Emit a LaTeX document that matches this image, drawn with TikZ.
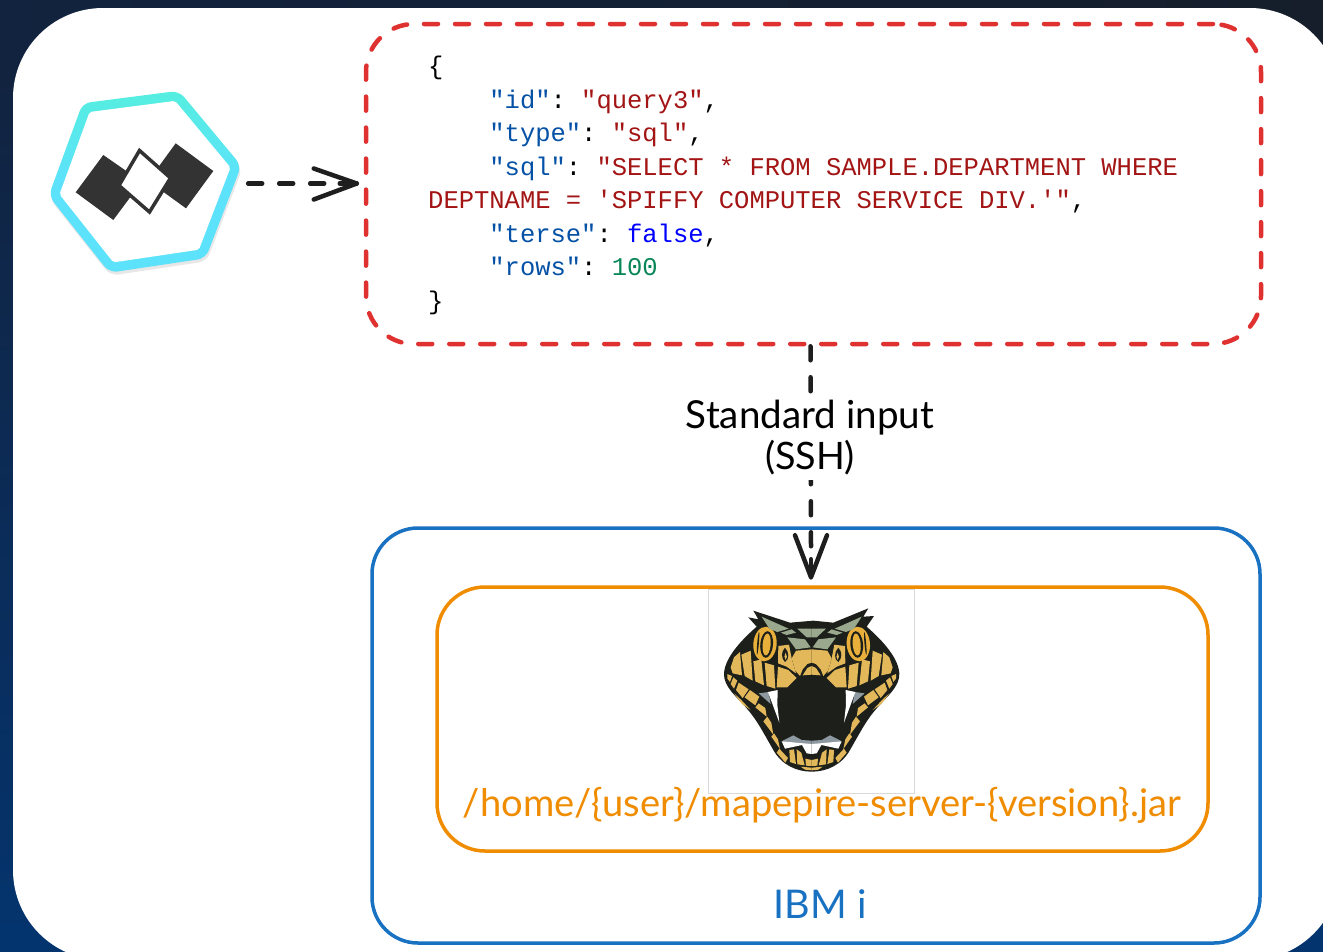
\documentclass[tikz,border=0pt]{standalone}
\usepackage{fontspec}
\usepackage{graphicx}
\setmonofont{Liberation Mono}
\newfontfamily\handfont{Lato}
\usetikzlibrary{calc}
\definecolor{inkc}{HTML}{1E1E1E}
\definecolor{redc}{HTML}{E03131}
\definecolor{bluec}{HTML}{1971C2}
\definecolor{orangec}{HTML}{F08C00}
\definecolor{keyc}{HTML}{0451A5}
\definecolor{strc}{HTML}{A31515}
\definecolor{boolc}{HTML}{0000FF}
\definecolor{numc}{HTML}{098658}
\definecolor{goldc}{HTML}{E2B85A}
\definecolor{eyec}{HTML}{E8B03A}
\definecolor{sagec}{HTML}{9AA88E}
\definecolor{snakec}{HTML}{1C1F1A}
\definecolor{greyc}{HTML}{8D98A0}
\definecolor{bgtl}{HTML}{12233F}
\definecolor{bgtr}{HTML}{151E2A}
\definecolor{bgbl}{HTML}{04346E}
\definecolor{hexa}{HTML}{55EEE0}
\definecolor{hexb}{HTML}{5CE2FB}
\newcommand{\ky}[1]{\textcolor{keyc}{#1}}
\newcommand{\st}[1]{\textcolor{strc}{#1}}
\newcommand{\ind}{\hspace*{61.2pt}}
\newcommand{\goldpieces}{%
  \fill[eyec,rotate around={-5:(225,192)}] (225,192) ellipse [x radius=35,y radius=52];
  \fill[snakec,rotate around={-5:(225,192)}] (230,193) ellipse [x radius=19,y radius=40];
  \fill[eyec,rotate around={-5:(225,192)}] (230,193) ellipse [x radius=12,y radius=33];
  \fill[snakec,rotate around={-5:(225,192)}] (204,192) ellipse [x radius=2.5,y radius=34];
  \fill[sagec] (215,110) -- (296,146) -- (262,156) -- (238,146) -- cycle;
  \fill[sagec] (272,158) -- (305,148) -- (318,158) -- (290,165) -- cycle;
  \fill[sagec] (292,172) -- (345,178) -- (362,202) -- (318,208) -- cycle;
  \fill[sagec] (322,146) -- (365,146) -- (365,172) -- (350,172) -- cycle;
  % forehead: gold band, black arch, gold inner arch
  \fill[goldc] (365,208) -- (318,212) -- (305,235) -- (316,272) -- (330,288) -- (338,268) -- (352,252) -- (365,248) -- cycle;
  \fill[goldc] (365,258) -- (352,264) -- (338,286) -- (365,284) -- cycle;
  \fill[goldc] (265,198) -- (297,194) -- (306,240) -- (318,280) -- (290,260) -- (264,250) -- cycle;
  \fill[snakec] (285,203) .. controls (298,215) and (298,240) .. (285,246) .. controls (273,235) and (273,215) .. (285,203) -- cycle;
  \fill[goldc] (287,218) .. controls (292,225) and (292,235) .. (287,240) .. controls (282,235) and (282,225) .. (287,218) -- cycle;
  \fill[goldc] (264,260) -- (295,270) -- (320,294) -- (292,322) -- (260,322) -- cycle;
  % cheek stripes
  \fill[goldc] (224,248) -- (252,256) -- (256,326) -- (230,318) -- cycle;
  \fill[goldc] (190,244) -- (214,238) -- (222,316) -- (196,304) -- cycle;
  \fill[goldc] (154,224) -- (182,212) -- (188,302) -- (164,288) -- cycle;
  \fill[goldc] (122,262) -- (132,232) -- (150,216) -- (156,286) -- (128,280) -- cycle;
  % jaw pieces
  \fill[goldc] (112,282) -- (126,288) -- (120,306) -- (112,296) -- cycle;
  \fill[goldc] (130,292) -- (142,302) -- (132,326) -- (122,312) -- cycle;
  \fill[goldc] (146,308) -- (176,328) -- (158,354) -- (138,330) -- cycle;
  \fill[goldc] (180,330) -- (208,350) -- (196,376) -- (164,352) -- cycle;
  \fill[goldc] (132,340) -- (152,358) -- (182,390) -- (156,372) -- cycle;
  \fill[goldc] (206,370) -- (226,384) -- (230,410) -- (196,382) -- cycle;
  \fill[goldc] (232,410) -- (244,428) -- (250,464) -- (220,424) -- cycle;
  \fill[goldc] (252,460) -- (264,478) -- (270,507) -- (244,470) -- cycle;
  \fill[goldc] (268,506) -- (294,534) -- (286,548) -- (260,518) -- cycle;
  \fill[goldc] (298,510) -- (312,508) -- (318,552) -- (300,546) -- cycle;
  \fill[goldc] (320,508) -- (334,518) -- (344,556) -- (322,553) -- cycle;
  \fill[goldc] (346,536) -- (365,540) -- (365,558) -- (348,557) -- cycle;
  \fill[goldc] (332,560) -- (365,563) -- (365,571) -- (345,569) -- cycle;
  % fangs and lower teeth
  \fill[greyc] (206,340) -- (236,336) -- (242,372) -- cycle;
  \fill[white] (234,336) -- (263,330) -- (262,375) -- (268,428) -- cycle;
  \fill[greyc] (278,482) -- (310,466) -- (335,480) -- (365,482) -- (365,492) -- (280,490) -- cycle;
  \fill[white] (275,484) -- (340,490) -- (365,492) -- (365,522) -- (350,520) -- (336,495) -- (285,506) -- cycle;
}
\begin{document}
\begin{tikzpicture}[x=1pt,y=-1pt,
  flow/.style={inkc,line width=4.5pt,line cap=round,dash pattern=on 14pt off 17pt},
  tip/.style={inkc,line width=4.5pt,line cap=round,line join=round},
  handtext/.style={inner sep=0pt,align=center}]
\useasboundingbox (0,0) rectangle (1323,951);
\shade[top color=bgtl,bottom color=bgbl] (0,60) rectangle (1323,951);
\shade[left color=bgtl,right color=bgtr] (0,0) rectangle (1323,60);
\fill[white,rounded corners=90pt] (13,8) rectangle (1340,960);
\node[draw=bluec,line width=3.5pt,rounded corners=46pt,minimum width=888pt,minimum height=415pt,inner sep=0pt] (ibmi) at (816,735.5) {};
\node[draw=orangec,line width=3.5pt,rounded corners=48pt,minimum width=771pt,minimum height=264pt,inner sep=0pt] (server) at (822.5,719) {};
\node[draw=black!15,line width=0.8pt,fill=white,minimum width=205.5pt,minimum height=204pt,inner sep=0pt] (picture) at (811.2,691) {};
\node[draw=redc,line width=4.5pt,line cap=round,dash pattern=on 14pt off 17pt,rounded corners=48pt,minimum width=895pt,minimum height=320pt,inner sep=0pt] (request) at (813.5,184) {};
\node[anchor=north west,inner sep=0pt,align=left,font=\ttfamily\fontsize{25.5}{33.5}\selectfont] (code) at (428,56) {%
\{\\
\ind\ky{"id"}: \st{"query3"},\\
\ind\ky{"type"}: \st{"sql"},\\
\ind\ky{"sql"}: \st{"SELECT * FROM SAMPLE.DEPARTMENT WHERE}\\
\st{DEPTNAME = 'SPIFFY COMPUTER SERVICE DIV.'"},\\
\ind\ky{"terse"}: \textcolor{boolc}{false},\\
\ind\ky{"rows"}: \textcolor{numc}{100}\\
\}};
\node[minimum width=206pt,minimum height=190pt,inner sep=0pt] (logo) at (145,183.5) {};
\begin{scope}[shift={(145,181.5)}]
\fill[black!30,opacity=.3,rounded corners=8pt,shift={(1,3)}] (-62.4,-78.3) -- (33.9,-90.7) -- (96.3,-15.8) -- (60.7,76.8) -- (-35.6,91.2) -- (-96.3,14.4) -- cycle;
\shade[shading angle=25,top color=hexa,bottom color=hexb,middle color=hexb,rounded corners=8pt] (-62.4,-78.3) -- (33.9,-90.7) -- (96.3,-15.8) -- (60.7,76.8) -- (-35.6,91.2) -- (-96.3,14.4) -- cycle;
\fill[white,rounded corners=2pt] (-55.4,-69.5) -- (30.1,-80.6) -- (85.5,-14) -- (53.9,68.2) -- (-31.6,80.9) -- (-85.5,12.8) -- cycle;
\end{scope}
\fill[black!80] (103.3,155) -- (75.7,192.3) -- (113.3,220) -- (141.7,181.7) -- cycle;
\fill[black!80] (175.7,143.3) -- (213.3,171) -- (186,208.3) -- (148.3,181) -- cycle;
\draw[black!80,fill=white,line width=3.5pt,line join=miter] (139.5,150.5) -- (170.5,178) -- (149.5,212) -- (119,185.5) -- cycle;
\begin{scope}[shift={(690,580)},scale=1/3]
\fill[snakec] (190,92) -- (300,128) -- (370,122) -- (430,128) -- (535,85) -- (520,110) -- (552,108) -- (530,140)
  .. controls (570,175) and (625,230) .. (628,280) .. controls (630,320) and (590,350) .. (560,385)
  .. controls (530,420) and (520,440) .. (480,510) .. controls (455,555) and (410,575) .. (365,575)
  .. controls (320,575) and (275,555) .. (250,510) .. controls (210,440) and (200,420) .. (170,385)
  .. controls (140,350) and (100,320) .. (102,280) .. controls (105,230) and (160,175) .. (200,140)
  -- (175,112) -- (205,118) -- cycle;
\goldpieces
\begin{scope}[shift={(730,0)},xscale=-1]
\goldpieces
\end{scope}
\end{scope}
\node[handtext,text=orangec] (path) at (822,805) {\resizebox{718pt}{!}{\handfont\fontsize{34}{40}\selectfont /home/\{user\}/mapepire-server-\{version\}.jar}};
\node[handtext,text=bluec] (ibmlabel) at (820,904) {\resizebox{93pt}{!}{\handfont\fontsize{34}{40}\selectfont IBM i}};
\coordinate (hend) at ($(logo.east -| request.west)+(-7,0)$);
\draw[flow] (logo.east) -- ($(hend)+(-26,0)$);
\draw[tip] ($(hend)+(-17,0)$) -- (hend);
\draw[tip] ($(hend)+(-43,-15)$) -- (hend) -- ($(hend)+(-43,16)$);
\coordinate (tiptop) at ($(request.south)+(-3,0)$);
\coordinate (tipend) at ($(server.north)+(-11.5,-8)$);
\draw[flow] (tiptop) -- ($(tipend)+(0,-30)$);
\draw[tip] ($(tipend)+(0,-18)$) -- (tipend);
\draw[tip] ($(tipend)+(-16,-42)$) -- (tipend) -- ($(tipend)+(16,-42)$);
\node[handtext,fill=white,inner ysep=5pt,inner xsep=3pt] (stdin) at (810,438) {\resizebox{248pt}{!}{\handfont\fontsize{34}{40}\selectfont Standard input}\\[4pt]\resizebox{90pt}{!}{\handfont\fontsize{34}{40}\selectfont (SSH)}};
\end{tikzpicture}
\end{document}
